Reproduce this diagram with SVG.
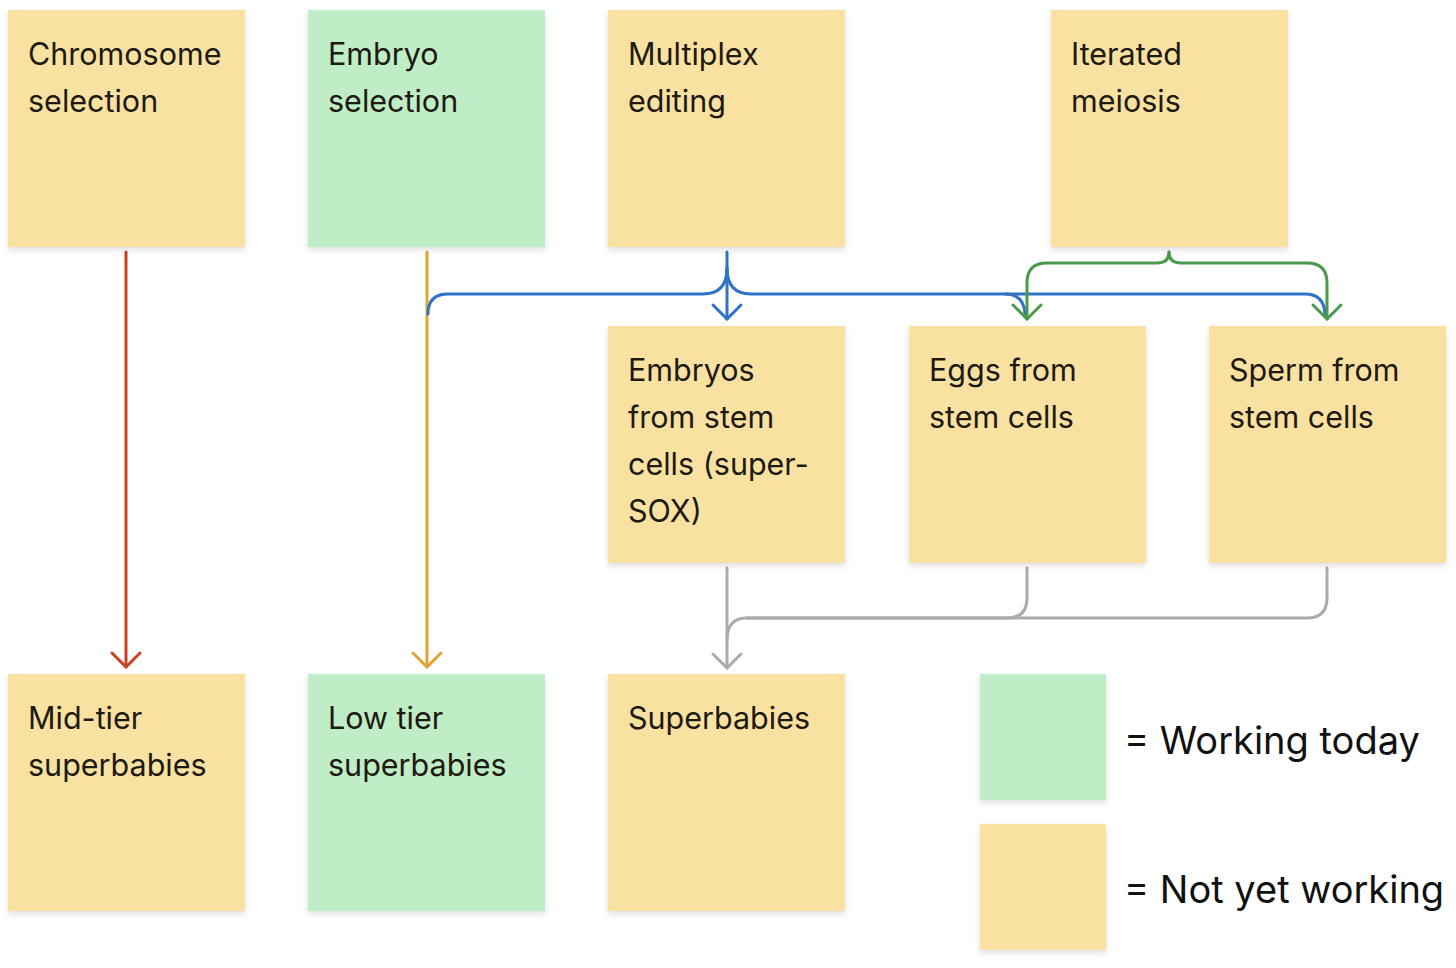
<svg xmlns="http://www.w3.org/2000/svg" width="1456" height="968" viewBox="0 0 1456 968">
<defs>
<filter id="sh" x="-10%" y="-10%" width="120%" height="125%">
<feDropShadow dx="0" dy="3" stdDeviation="3" flood-color="#000" flood-opacity="0.13"/>
</filter>
<marker id="aRed" markerUnits="userSpaceOnUse" viewBox="-16 -16 20 32" refX="0" refY="0" markerWidth="20" markerHeight="32" orient="auto" overflow="visible"><path d="M-14,-14 L0,0 L-14,14" fill="none" stroke="#C9411F" stroke-width="3" stroke-linecap="round" stroke-linejoin="round"/></marker>
<marker id="aOr" markerUnits="userSpaceOnUse" viewBox="-16 -16 20 32" refX="0" refY="0" markerWidth="20" markerHeight="32" orient="auto" overflow="visible"><path d="M-14,-14 L0,0 L-14,14" fill="none" stroke="#DDA631" stroke-width="3" stroke-linecap="round" stroke-linejoin="round"/></marker>
<marker id="aBlue" markerUnits="userSpaceOnUse" viewBox="-16 -16 20 32" refX="0" refY="0" markerWidth="20" markerHeight="32" orient="auto" overflow="visible"><path d="M-14,-14 L0,0 L-14,14" fill="none" stroke="#2F72C6" stroke-width="3" stroke-linecap="round" stroke-linejoin="round"/></marker>
<marker id="aGreen" markerUnits="userSpaceOnUse" viewBox="-16 -16 20 32" refX="0" refY="0" markerWidth="20" markerHeight="32" orient="auto" overflow="visible"><path d="M-14,-14 L0,0 L-14,14" fill="none" stroke="#4A9A4C" stroke-width="3" stroke-linecap="round" stroke-linejoin="round"/></marker>
<marker id="aGray" markerUnits="userSpaceOnUse" viewBox="-16 -16 20 32" refX="0" refY="0" markerWidth="20" markerHeight="32" orient="auto" overflow="visible"><path d="M-14,-14 L0,0 L-14,14" fill="none" stroke="#ABABAB" stroke-width="3" stroke-linecap="round" stroke-linejoin="round"/></marker>
</defs>
<style>
.y{fill:#F9E2A1;filter:url(#sh)}
.g{fill:#BFEDC5;filter:url(#sh)}
.t{font-family:Inter,"Liberation Sans",sans-serif;font-size:30.5px;fill:#1E1A12}
.l{font-family:Inter,"Liberation Sans",sans-serif;font-size:38px;fill:#111111}
.c{fill:none;stroke-width:3;stroke-linecap:round;stroke-linejoin:round}
</style>
<rect width="1456" height="968" fill="#FFFFFF"/>

<g id="connectors">
<path class="c" stroke="#C9411F" d="M126 252 V667" marker-end="url(#aRed)"/>
<path class="c" stroke="#DDA631" d="M427 252 V667" marker-end="url(#aOr)"/>
<path class="c" stroke="#2F72C6" d="M727 252 V319" marker-end="url(#aBlue)"/>
<path class="c" stroke="#2F72C6" d="M727 268 Q727 294 703 294 H448 Q428 294 428 314"/>
<path class="c" stroke="#2F72C6" d="M727 268 Q727 294 751 294 H1005 Q1024 294 1025 314"/>
<path class="c" stroke="#2F72C6" d="M1005 294 H1305 Q1324 294 1325 314"/>
<path class="c" stroke="#4A9A4C" d="M1169 252 Q1169 263 1157 263 H1047 Q1027 263 1027 283 V319" marker-end="url(#aGreen)"/>
<path class="c" stroke="#4A9A4C" d="M1169 252 Q1169 263 1181 263 H1307 Q1327 263 1327 283 V319" marker-end="url(#aGreen)"/>
<path class="c" stroke="#ABABAB" d="M727 568 V668" marker-end="url(#aGray)"/>
<path class="c" stroke="#ABABAB" d="M1027 568 V598 Q1027 618 1007 618 H747"/>
<path class="c" stroke="#ABABAB" d="M1327 568 V598 Q1327 618 1307 618 H747 Q727 618 727 640"/>
</g>

<g id="chromosome-selection"><rect class="y" x="8" y="10" width="237" height="237"/><text class="t" x="28" y="65">Chromosome</text><text class="t" x="28" y="112">selection</text></g>
<g id="embryo-selection"><rect class="g" x="308" y="10" width="237" height="237"/><text class="t" x="328" y="65">Embryo</text><text class="t" x="328" y="112">selection</text></g>
<g id="multiplex-editing"><rect class="y" x="608" y="10" width="237" height="237"/><text class="t" x="628" y="65">Multiplex</text><text class="t" x="628" y="112">editing</text></g>
<g id="iterated-meiosis"><rect class="y" x="1051" y="10" width="237" height="237"/><text class="t" x="1071" y="65">Iterated</text><text class="t" x="1071" y="112">meiosis</text></g>

<g id="embryos-from-stem-cells"><rect class="y" x="608" y="326" width="237" height="237"/><text class="t" x="628" y="381">Embryos</text><text class="t" x="628" y="428">from stem</text><text class="t" x="628" y="475">cells (super-</text><text class="t" x="628" y="522">SOX)</text></g>
<g id="eggs-from-stem-cells"><rect class="y" x="909" y="326" width="237" height="237"/><text class="t" x="929" y="381">Eggs from</text><text class="t" x="929" y="428">stem cells</text></g>
<g id="sperm-from-stem-cells"><rect class="y" x="1209" y="326" width="237" height="237"/><text class="t" x="1229" y="381">Sperm from</text><text class="t" x="1229" y="428">stem cells</text></g>

<g id="mid-tier-superbabies"><rect class="y" x="8" y="674" width="237" height="237"/><text class="t" x="28" y="729">Mid-tier</text><text class="t" x="28" y="776">superbabies</text></g>
<g id="low-tier-superbabies"><rect class="g" x="308" y="674" width="237" height="237"/><text class="t" x="328" y="729">Low tier</text><text class="t" x="328" y="776">superbabies</text></g>
<g id="superbabies"><rect class="y" x="608" y="674" width="237" height="237"/><text class="t" x="628" y="729">Superbabies</text></g>

<g id="legend-working"><rect class="g" x="980" y="674" width="126" height="126"/><text class="l" x="1124" y="754">= Working today</text></g>
<g id="legend-not-working"><rect class="y" x="980" y="824" width="126" height="126"/><text class="l" x="1124" y="903">= Not yet working</text></g>
</svg>
